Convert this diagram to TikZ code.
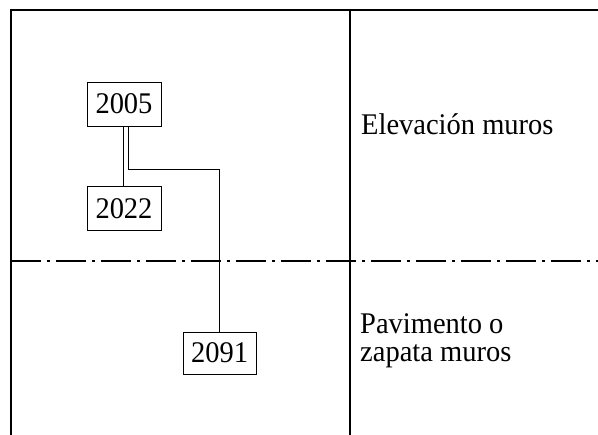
\documentclass[tikz,border=0pt]{standalone}
\usepackage{fontspec}
\setmainfont[FakeStretch=0.95]{Liberation Serif}
\begin{document}
\begin{tikzpicture}[x=1pt,y=-1pt,
  yearbox/.style={draw,line width=0.9pt,minimum width=74pt,minimum height=44pt,inner sep=0pt,font=\fontsize{30}{27}\selectfont},
  label/.style={anchor=base west,inner sep=0pt,align=left,font=\fontsize{30}{27}\selectfont},
  frame/.style={line width=1.6pt},
  link/.style={line width=0.9pt},
  axis/.style={line width=1.2pt,dash pattern=on 30pt off 6pt on 3pt off 6pt}]
\useasboundingbox[fill=white] (0,0) rectangle (598,435);
% frame
\coordinate (tl) at (11,10);
\coordinate (tr) at (598,10);
\coordinate (bl) at (11,435);
\coordinate (mt) at (350,10);
\coordinate (mb) at (350,435);
\coordinate (hl) at (11,261);
\coordinate (hr) at (598,261);
\draw[frame] (bl) -- (tl) -- (tr);
\draw[frame,line width=1.3pt] (mt) -- (mb);
\draw[axis] (hl) -- (hr);
% boxes
\node[yearbox] (a) at (124,104) {2005};
\node[yearbox] (b) at (124,208.5) {2022};
\node[yearbox,minimum width=73pt,minimum height=42pt] (c) at (219.5,353) {2091};
% connectors
\draw[link] ([xshift=-1pt]a.south) -- ([xshift=-1pt]a.south |- b.north);
\draw[link] ([xshift=4pt]a.south) -- ++(0,43) -| (c.north);
% labels
\node[label] (e) at (361,135) {Elevación muros};
\node[label] (p1) at (360,334) {Pavimento o};
\node[label] (p2) at (360,362) {zapata muros};
\end{tikzpicture}
\end{document}
